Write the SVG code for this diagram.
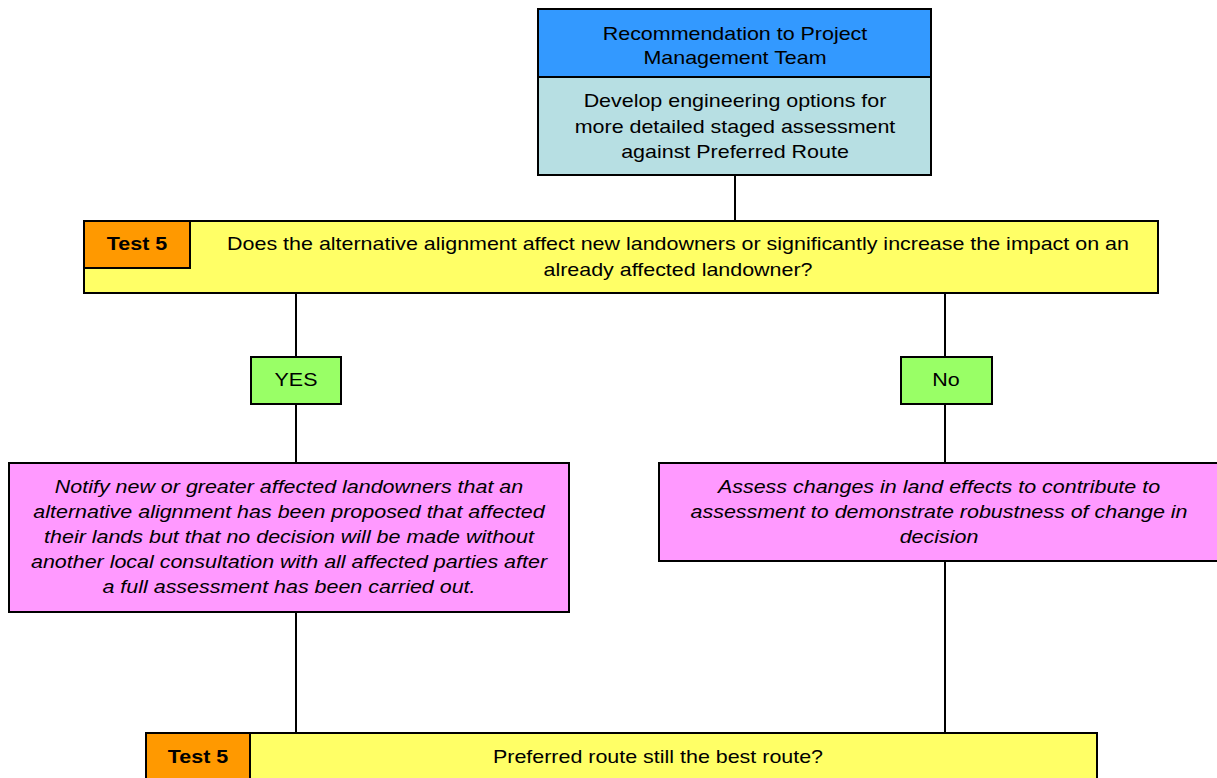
<svg xmlns="http://www.w3.org/2000/svg" width="1217" height="778" viewBox="0 0 1217 778">
<style>
.b{stroke:#000;stroke-width:2}
.t{font-family:"Liberation Sans",Arial,sans-serif;font-size:18.5px;fill:#000;text-anchor:middle}
.bold{font-weight:bold}
.i{font-style:italic}
.c{stroke:#000;stroke-width:2;fill:none}
</style>
<rect width="1217" height="778" fill="#fff"/>
<g id="connectors">
<line class="c" x1="735" y1="175" x2="735" y2="221"/>
<line class="c" x1="296" y1="293" x2="296" y2="463"/>
<line class="c" x1="945" y1="293" x2="945" y2="463"/>
<line class="c" x1="296" y1="612" x2="296" y2="733"/>
<line class="c" x1="945" y1="561" x2="945" y2="733"/>
</g>
<g id="recommendation">
<rect class="b" x="538" y="9" width="393" height="68" fill="#3399FF"/>
<text class="t" transform="matrix(1.16 0 0 1 735 0)" y="40">Recommendation to Project</text>
<text class="t" transform="matrix(1.16 0 0 1 735 0)" y="64">Management Team</text>
</g>
<g id="develop">
<rect class="b" x="538" y="77" width="393" height="98" fill="#B7DFE3"/>
<text class="t" transform="matrix(1.16 0 0 1 735 0)" y="107">Develop engineering options for</text>
<text class="t" transform="matrix(1.16 0 0 1 735 0)" y="133">more detailed staged assessment</text>
<text class="t" transform="matrix(1.16 0 0 1 735 0)" y="158">against Preferred Route</text>
</g>
<g id="test5a">
<rect class="b" x="84" y="221" width="1074" height="72" fill="#FFFF66"/>
<rect class="b" x="84" y="221" width="106" height="47" fill="#FF9900"/>
<text class="t bold" transform="matrix(1.16 0 0 1 137 0)" y="250">Test 5</text>
<text class="t" transform="matrix(1.16 0 0 1 678 0)" y="250">Does the alternative alignment affect new landowners or significantly increase the impact on an</text>
<text class="t" transform="matrix(1.16 0 0 1 678 0)" y="276">already affected landowner?</text>
</g>
<g id="yes">
<rect class="b" x="251" y="357" width="90" height="47" fill="#99FF66"/>
<text class="t" transform="matrix(1.16 0 0 1 296 0)" y="386">YES</text>
</g>
<g id="no">
<rect class="b" x="901" y="357" width="91" height="47" fill="#99FF66"/>
<text class="t" transform="matrix(1.16 0 0 1 946 0)" y="386">No</text>
</g>
<g id="notify">
<rect class="b" x="9" y="463" width="560" height="149" fill="#FF99FF"/>
<text class="t i" transform="matrix(1.16 0 0 1 289 0)" y="493">Notify new or greater affected landowners that an</text>
<text class="t i" transform="matrix(1.16 0 0 1 289 0)" y="518">alternative alignment has been proposed that affected</text>
<text class="t i" transform="matrix(1.16 0 0 1 289 0)" y="543">their lands but that no decision will be made without</text>
<text class="t i" transform="matrix(1.16 0 0 1 289 0)" y="568">another local consultation with all affected parties after</text>
<text class="t i" transform="matrix(1.16 0 0 1 289 0)" y="593">a full assessment has been carried out.</text>
</g>
<g id="assess">
<rect class="b" x="659" y="463" width="562" height="98" fill="#FF99FF"/>
<text class="t i" transform="matrix(1.16 0 0 1 939 0)" y="493">Assess changes in land effects to contribute to</text>
<text class="t i" transform="matrix(1.16 0 0 1 939 0)" y="518">assessment to demonstrate robustness of change in</text>
<text class="t i" transform="matrix(1.16 0 0 1 939 0)" y="543">decision</text>
</g>
<g id="test5b">
<rect class="b" x="146" y="733" width="951" height="50" fill="#FFFF66"/>
<rect class="b" x="146" y="733" width="104" height="50" fill="#FF9900"/>
<text class="t bold" transform="matrix(1.16 0 0 1 198 0)" y="763">Test 5</text>
<text class="t" transform="matrix(1.16 0 0 1 658 0)" y="763">Preferred route still the best route?</text>
</g>
</svg>
